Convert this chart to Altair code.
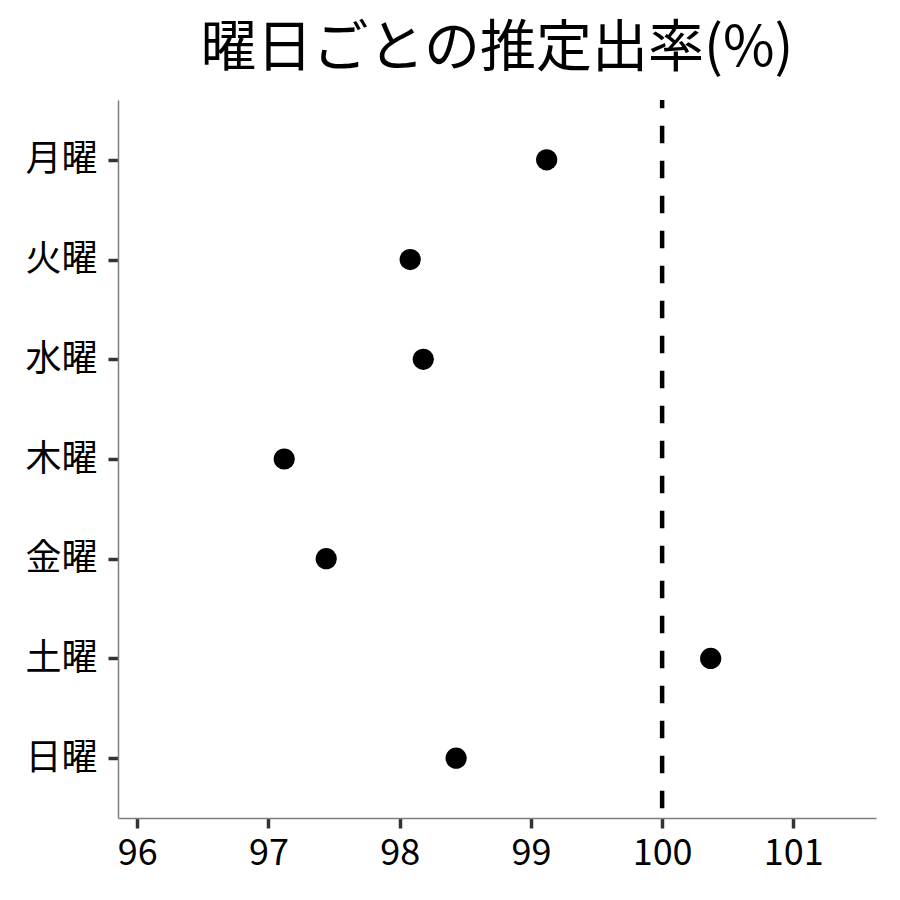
import altair as alt
import pandas as pd

days = ["月曜", "火曜", "水曜", "木曜", "金曜", "土曜", "日曜"]
values = [99.12, 98.08, 98.18, 97.12, 97.44, 100.37, 98.43]
ref_value = [100]
x_ticks = [96, 97, 98, 99, 100, 101]
x_domain = [95.853, 101.63]

df = pd.DataFrame({"day": days, "value": values})
ref = pd.DataFrame({"x": ref_value})

FONT = "Noto Sans CJK JP"

x_enc = alt.X(
    "value:Q",
    scale=alt.Scale(domain=x_domain, nice=False, zero=False),
    axis=alt.Axis(values=x_ticks, title=None, labelPadding=8, format="d"),
)

points = alt.Chart(df).mark_circle(size=450, color="black", opacity=1).encode(
    x=x_enc,
    y=alt.Y(
        "day:N",
        sort=days,
        scale=alt.Scale(type="point", padding=0.6),
        axis=alt.Axis(title=None, labelPadding=11),
    ),
)

rule = alt.Chart(ref).mark_rule(
    strokeDash=[17.5, 17.5], strokeDashOffset=9.2, strokeWidth=4.5, color="black"
).encode(
    x=alt.X("x:Q", scale=alt.Scale(domain=x_domain, nice=False, zero=False))
)

chart = (
    alt.layer(rule, points)
    .properties(
        width=758,
        height=718,
        padding={"left": 110, "top": 92, "right": 16, "bottom": 60},
        autosize=alt.AutoSizeParams(type="none"),
        title=alt.TitleParams(
            "曜日ごとの推定出率(%)",
            font=FONT,
            fontSize=56,
            fontWeight="normal",
            color="black",
            anchor="middle",
            frame="group",
            offset=20,
        ),
    )
    .configure(background="white")
    .configure_view(stroke=None)
    .configure_axis(
        grid=False,
        labelFont=FONT,
        labelFontSize=36,
        labelColor="black",
        domainColor="#7f7f7f",
        domainWidth=1.5,
        tickColor="#333333",
        tickWidth=3.5,
        tickSize=10,
    )
)

chart.save("out.html", embed_options={"renderer": "svg", "actions": False})
